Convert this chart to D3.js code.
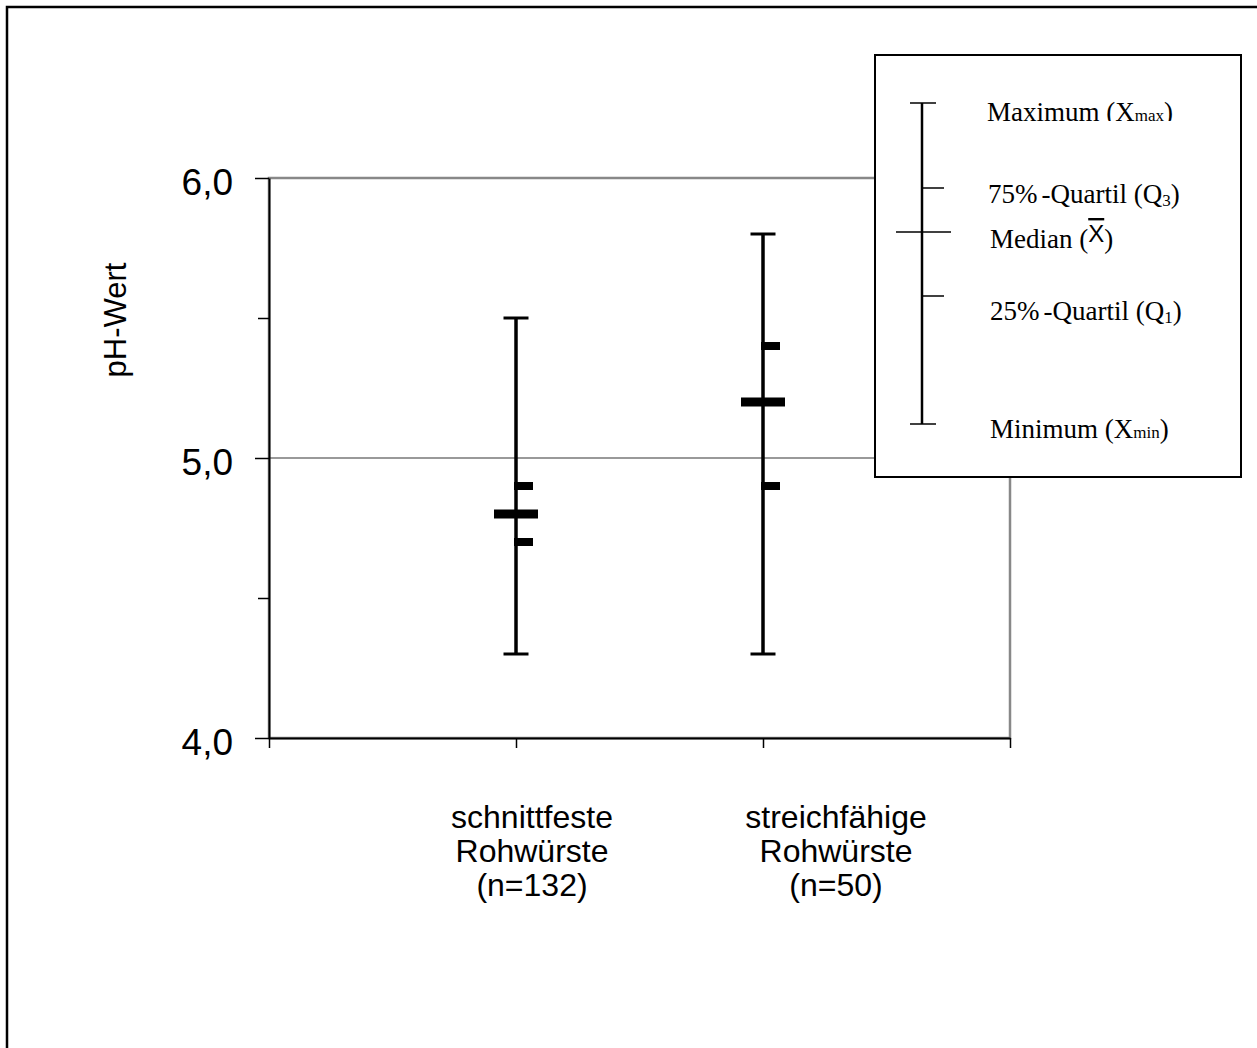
<!DOCTYPE html>
<html>
<head>
<meta charset="utf-8">
<script src="https://cdn.jsdelivr.net/npm/d3@7"></script>
<style>
  body { margin: 0; background: #fff; }
  svg { display: block; }
</style>
</head>
<body>
<div id="chart"></div>
<script>
// DATA
// ------------------------------------------------------------------
const categories = ["schnittfeste Rohwürste (n=132)", "streichfähige Rohwürste (n=50)"];
const labelLines = [["schnittfeste", "Rohwürste", "(n=132)"], ["streichfähige", "Rohwürste", "(n=50)"]];
const minVals = [4.3, 4.3];
const q1Vals = [4.7, 4.9];
const medianVals = [4.8, 5.2];
const q3Vals = [4.9, 5.4];
const maxVals = [5.5, 5.8];
const yTicks = [4.0, 4.5, 5.0, 5.5, 6.0];
const yMajor = [4.0, 5.0, 6.0];
const legendLabels = ["Maximum", "75%-Quartil", "Median", "25%-Quartil", "Minimum"];

// LAYOUT
// ------------------------------------------------------------------
const W = 1257, H = 1048;
const plot = { left: 269, right: 1010, top: 178, bottom: 738 };
const labelOffset = [16, 73];   // category text boxes sit a bit right of the bars

const svg = d3.select("#chart").append("svg")
  .attr("width", W).attr("height", H);

// outer frame
svg.append("rect")
  .attr("x", 7).attr("y", 7).attr("width", 1270).attr("height", 1070)
  .attr("fill", "none").attr("stroke", "#000").attr("stroke-width", 2.5);

const x = d3.scaleLinear([0, 3], [plot.left, plot.right]);
const y = d3.scaleLinear([4, 6], [plot.bottom, plot.top]);

// PLOT AREA BORDER + GRID
// ------------------------------------------------------------------
svg.append("rect")
  .attr("x", plot.left).attr("y", plot.top)
  .attr("width", plot.right - plot.left).attr("height", plot.bottom - plot.top)
  .attr("fill", "none").attr("stroke", "#888").attr("stroke-width", 2.5);

svg.append("g").selectAll("line")
  .data(yMajor.filter(d => d > 4 && d < 6))
  .enter().append("line")
  .attr("x1", plot.left).attr("x2", plot.right)
  .attr("y1", d => y(d)).attr("y2", d => y(d))
  .attr("stroke", "#777").attr("stroke-width", 1.5);

// AXES
// ------------------------------------------------------------------
const fmt = d => d3.format(".1f")(d).replace(".", ",");
const yAxis = svg.append("g")
  .attr("transform", `translate(${plot.left},0)`)
  .call(d3.axisLeft(y).tickValues(yTicks).tickSize(14).tickSizeOuter(0)
    .tickFormat(d => yMajor.includes(d) ? fmt(d) : ""));
yAxis.select(".domain").attr("stroke", "#000").attr("stroke-width", 2);
yAxis.selectAll(".tick line")
  .attr("stroke", "#000").attr("stroke-width", 1.5)
  .attr("x2", d => yMajor.includes(d) ? -14 : -11);
yAxis.selectAll(".tick text")
  .attr("x", -36).attr("dy", 16)
  .style("font-family", "Arial, 'Liberation Sans', sans-serif")
  .style("font-size", "37px").attr("fill", "#000");

const xAxis = svg.append("g")
  .attr("transform", `translate(0,${plot.bottom})`)
  .call(d3.axisBottom(x).tickValues([0, 1, 2, 3]).tickSize(10).tickSizeOuter(0).tickFormat(""));
xAxis.select(".domain").attr("stroke", "#000").attr("stroke-width", 2);
xAxis.selectAll(".tick line").attr("stroke", "#000").attr("stroke-width", 1.5);

// y axis title
svg.append("text")
  .attr("transform", "translate(126,320) rotate(-90)")
  .attr("text-anchor", "middle")
  .style("font-family", "Arial, 'Liberation Sans', sans-serif")
  .style("font-size", "31px")
  .text("pH-Wert");

// category labels
const catLabels = svg.append("g").selectAll("text")
  .data(labelLines)
  .enter().append("text")
  .attr("text-anchor", "middle")
  .style("font-family", "Arial, 'Liberation Sans', sans-serif")
  .style("font-size", "32px");
catLabels.selectAll("tspan")
  .data((d, i) => d.map(line => ({ line, i })))
  .enter().append("tspan")
  .attr("x", d => x(d.i + 1) + labelOffset[d.i])
  .attr("y", (d, j) => 828 + j * 34)
  .text(d => d.line);

// BOX MARKS
// ------------------------------------------------------------------
const boxes = svg.append("g").selectAll("g")
  .data(categories)
  .enter().append("g");

boxes.append("line")
  .attr("x1", (d, i) => x(i + 1)).attr("x2", (d, i) => x(i + 1))
  .attr("y1", (d, i) => y(maxVals[i])).attr("y2", (d, i) => y(minVals[i]))
  .attr("stroke", "#000").attr("stroke-width", 3.5);

[maxVals, minVals].forEach(vals => {
  boxes.append("line")
    .attr("x1", (d, i) => x(i + 1) - 12.5).attr("x2", (d, i) => x(i + 1) + 12.5)
    .attr("y1", (d, i) => y(vals[i])).attr("y2", (d, i) => y(vals[i]))
    .attr("stroke", "#000").attr("stroke-width", 3);
});

boxes.append("rect")
  .attr("x", (d, i) => x(i + 1) - 22).attr("width", 44)
  .attr("y", (d, i) => y(medianVals[i]) - 4.5).attr("height", 9)
  .attr("fill", "#000");

[q1Vals, q3Vals].forEach(vals => {
  boxes.append("rect")
    .attr("x", (d, i) => x(i + 1) - 2).attr("width", 19)
    .attr("y", (d, i) => y(vals[i]) - 4).attr("height", 8)
    .attr("fill", "#000");
});

// LEGEND
// ------------------------------------------------------------------
const lg = svg.append("g");
lg.append("rect")
  .attr("x", 875).attr("y", 55).attr("width", 366).attr("height", 422)
  .attr("fill", "#fff").attr("stroke", "#000").attr("stroke-width", 2);

// schematic whisker (legend key positions)
const legendY = d3.scaleOrdinal(legendLabels, [103, 188, 232, 296, 424]);
const lx = 922;
lg.append("line").attr("x1", lx).attr("x2", lx)
  .attr("y1", legendY("Maximum")).attr("y2", legendY("Minimum"))
  .attr("stroke", "#000").attr("stroke-width", 2.5);
lg.selectAll(".lk")
  .data(legendLabels)
  .enter().append("line")
  .attr("x1", d => d === "Median" ? lx - 26 : (d === "Maximum" || d === "Minimum") ? lx - 12 : lx)
  .attr("x2", d => d === "Median" ? lx + 29 : (d === "Maximum" || d === "Minimum") ? lx + 14 : lx + 22)
  .attr("y1", d => legendY(d)).attr("y2", d => legendY(d))
  .attr("stroke", "#000").attr("stroke-width", 1.5);

svg.append("clipPath").attr("id", "maxclip")
  .append("rect").attr("x", 875).attr("y", 55).attr("width", 366).attr("height", 66);

const serif = "'Times New Roman', 'Liberation Serif', serif";
function legText(xp, yp) {
  return lg.append("text").attr("x", xp).attr("y", yp)
    .style("font-family", serif).style("font-size", "27px").attr("fill", "#000");
}
let t = legText(987, 121).attr("clip-path", "url(#maxclip)");
t.append("tspan").text("Maximum (X");
t.append("tspan").style("font-size", "17px").text("max");
t.append("tspan").text(")");

t = legText(988, 203);
t.append("tspan").text("75%");
t.append("tspan").attr("dx", 4).text("-Quartil (Q");
t.append("tspan").style("font-size", "17px").attr("dy", 3).text("3");
t.append("tspan").attr("dy", -3).text(")");

t = legText(990, 248);
t.append("tspan").text("Median (");
t.append("tspan").attr("dy", -6)
  .style("font-family", "Arial, 'Liberation Sans', sans-serif").style("font-size", "24px")
  .style("text-decoration", "overline").text("X");
t.append("tspan").attr("dy", 6).text(")");

t = legText(990, 320);
t.append("tspan").text("25%");
t.append("tspan").attr("dx", 4).text("-Quartil (Q");
t.append("tspan").style("font-size", "17px").attr("dy", 3).text("1");
t.append("tspan").attr("dy", -3).text(")");

t = legText(990, 438);
t.append("tspan").text("Minimum (X");
t.append("tspan").style("font-size", "17px").text("min");
t.append("tspan").text(")");
</script>
</body>
</html>
